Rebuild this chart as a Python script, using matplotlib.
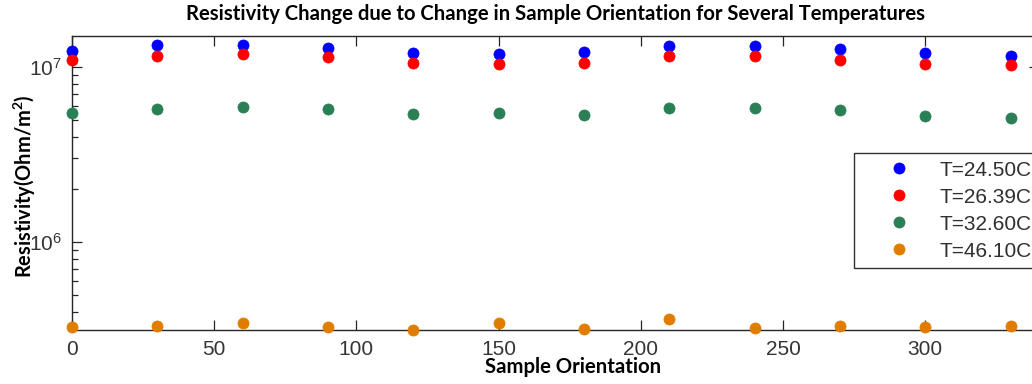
import matplotlib
matplotlib.use("Agg")
import matplotlib.pyplot as plt
from matplotlib.ticker import LogLocator, FixedLocator

plt.rcParams['font.family'] = ['Liberation Sans', 'DejaVu Sans']
plt.rcParams['mathtext.fontset'] = 'custom'
plt.rcParams['mathtext.rm'] = 'Liberation Sans'
plt.rcParams['mathtext.bf'] = 'Lato:bold'

# ---- data ----
orientation = [0, 30, 60, 90, 120, 150, 180, 210, 240, 270, 300, 330]
rho_2450 = [1.234e7, 1.33e7, 1.33e7, 1.287e7, 1.202e7, 1.181e7, 1.218e7, 1.313e7, 1.313e7, 1.262e7, 1.192e7, 1.155e7]
rho_2639 = [1.092e7, 1.151e7, 1.177e7, 1.131e7, 1.054e7, 1.036e7, 1.054e7, 1.151e7, 1.151e7, 1.092e7, 1.036e7, 1.023e7]
rho_3260 = [5.42e6, 5.74e6, 5.87e6, 5.72e6, 5.35e6, 5.44e6, 5.32e6, 5.84e6, 5.84e6, 5.71e6, 5.23e6, 5.14e6]
rho_4610 = [3.26e5, 3.32e5, 3.44e5, 3.26e5, 3.13e5, 3.44e5, 3.19e5, 3.62e5, 3.24e5, 3.32e5, 3.26e5, 3.32e5]
series_labels = ['T=24.50C', 'T=26.39C', 'T=32.60C', 'T=46.10C']
series_colors = ['#0000ff', '#ff0000', '#2a7f55', '#e07c00']
x_ticks = [0, 50, 100, 150, 200, 250, 300]

W, H = 1032, 384
fig = plt.figure(figsize=(W / 100, H / 100), dpi=100)
ax = fig.add_axes([72 / W, 54 / H, (1039 - 72) / W, (330 - 36) / H])

for vals, lab, col in zip([rho_2450, rho_2639, rho_3260, rho_4610], series_labels, series_colors):
    ax.plot(orientation, vals, linestyle='none', marker='o', markersize=8,
            markerfacecolor=col, markeredgecolor=col, markeredgewidth=0.5,
            label=lab, clip_on=False, zorder=5)

ax.set_yscale('log')
ax.set_xlim(0, 340)
ax.set_ylim(3.15e5, 1.5e7)
ax.xaxis.set_major_locator(FixedLocator(x_ticks))
ax.yaxis.set_major_locator(LogLocator(base=10))
ax.yaxis.set_minor_locator(LogLocator(base=10, subs=range(2, 10)))

spine_col = '#262626'
for s in ax.spines.values():
    s.set_color(spine_col)
    s.set_linewidth(1.0)

ax.tick_params(axis='both', which='major', direction='in', length=7, width=0.9,
               color=spine_col, top=True, right=True, labelsize=15,
               labelcolor='#353535', pad=7)
ax.tick_params(axis='y', which='minor', direction='in', length=4, width=0.9,
               color=spine_col, right=True)
ax.tick_params(axis='x', which='minor', bottom=False, top=False)

fig.text(555 / W, 1 - 14 / H,
         'Resistivity Change due to Change in Sample Orientation for Several Temperatures',
         ha='center', va='center', fontsize=14.6, fontweight='bold', family='Lato')

ax.set_xlabel('Sample Orientation', fontsize=14.6, fontweight='bold', family='Lato')
ax.xaxis.set_label_coords((573 - 72) / (1039 - 72), (330 - 367) / (330 - 36))
ax.xaxis.label.set_va('center')

ax.set_ylabel(r'Resistivity(Ohm/m$^{\mathbf{2}}$)', fontsize=14.4, fontweight='bold', family='Lato')
ax.yaxis.set_label_coords((25 - 72) / (1039 - 72), (330 - 186) / (330 - 36))
ax.yaxis.label.set_va('center')

leg = ax.legend(loc='upper left', bbox_to_anchor=(854 / W, 1 - 153 / H),
                bbox_transform=fig.transFigure, fontsize=15, frameon=True,
                fancybox=False, edgecolor='#303030', framealpha=1,
                borderpad=0.37, labelspacing=0.385, handlelength=3.55,
                handletextpad=0.2, borderaxespad=0, markerscale=1.0)
leg.get_frame().set_linewidth(1.0)
for t in leg.get_texts():
    t.set_color('#303030')

fig.savefig('out.png', dpi=100)
